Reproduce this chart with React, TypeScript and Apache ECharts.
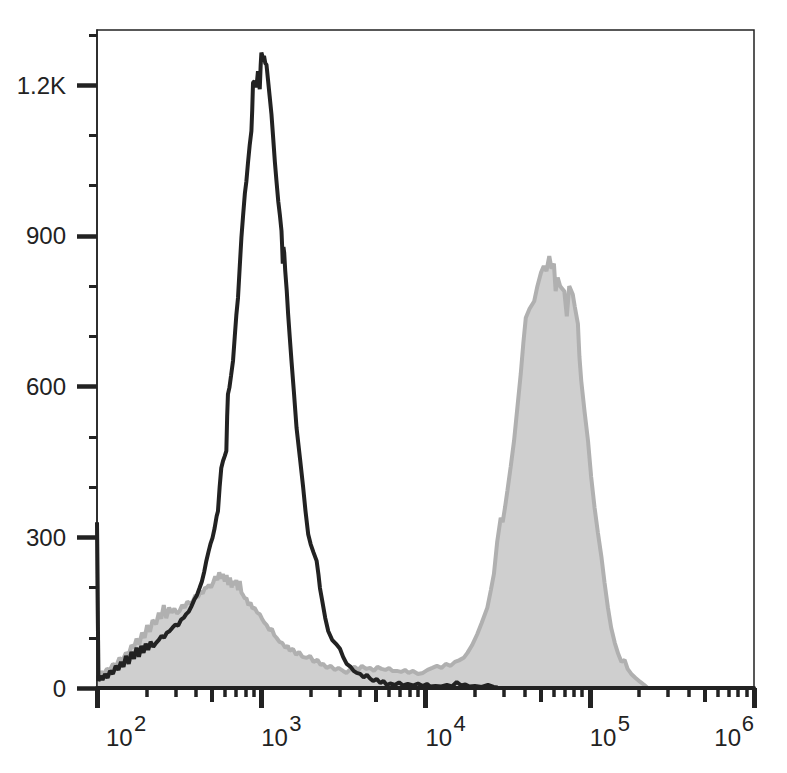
import React, { useEffect, useRef } from "react";
import * as echarts from "echarts";

// ---- DATA ----
// Black open histogram (control): [fluorescence, count]
const controlHistogram: [number, number][] = [
  [100, 330], [102, 14], [105, 24], [108, 16], [112, 28], [116, 20], [120, 34], [125, 28],
  [130, 44], [135, 36], [140, 52], [145, 42], [150, 64], [156, 48], [162, 72], [168, 58],
  [174, 80], [180, 62], [186, 84], [192, 70], [198, 88], [205, 76], [212, 92], [220, 82],
  [229, 90], [238, 96], [247, 104], [256, 100], [266, 110], [276, 113], [288, 120], [300, 126],
  [312, 124], [325, 136], [338, 140], [349, 147], [362, 152], [375, 162], [390, 175], [405, 184],
  [421, 199], [435, 212], [450, 232], [463, 253], [478, 272], [492, 288], [505, 299], [520, 318],
  [535, 342], [545, 352], [558, 400], [571, 438], [585, 452], [600, 462], [613, 472], [620, 540],
  [627, 585], [640, 598], [655, 622], [673, 651], [690, 700], [705, 742], [722, 777], [740, 840],
  [757, 896], [775, 940], [795, 985], [812, 1009], [830, 1045], [850, 1080], [871, 1109], [881, 1150],
  [891, 1205], [910, 1208], [935, 1196], [955, 1228], [979, 1192], [992, 1240], [1002, 1265], [1020, 1256],
  [1040, 1258], [1058, 1244], [1076, 1241], [1100, 1210], [1125, 1178], [1154, 1142], [1185, 1090], [1210, 1048],
  [1238, 1009], [1270, 968], [1300, 940], [1328, 910], [1340, 880], [1352, 845], [1365, 878], [1380, 866],
  [1400, 830], [1430, 790], [1458, 744], [1490, 700], [1528, 651], [1580, 590], [1640, 518], [1720, 458],
  [1800, 399], [1860, 352], [1931, 306], [2000, 286], [2080, 270], [2174, 253], [2230, 226], [2277, 199],
  [2350, 174], [2450, 140], [2559, 113], [2700, 96], [2850, 88], [3015, 78], [3150, 62], [3312, 48],
  [3500, 42], [3650, 34], [3811, 30], [4000, 28], [4200, 21], [4400, 26], [4594, 19], [4800, 14],
  [5050, 18], [5300, 10], [5550, 14], [5808, 6], [6100, 9], [6500, 6], [6900, 11], [7300, 5],
  [7800, 8], [8400, 5], [9000, 9], [9600, 4], [10200, 8], [10700, 3], [11500, 4], [12500, 3],
  [13500, 6], [14500, 3], [15500, 12], [16500, 5], [17500, 7], [18500, 3], [20000, 4], [22000, 2],
  [24000, 6], [26000, 2], [27500, 1],
];

// Grey filled histogram (stained): [fluorescence, count]
const stainedHistogram: [number, number][] = [
  [100, 325], [102, 25], [106, 32], [110, 28], [115, 38], [120, 36], [125, 48], [131, 44],
  [137, 60], [143, 54], [150, 70], [156, 66], [162, 85], [168, 80], [174, 98], [181, 87],
  [188, 110], [195, 100], [202, 125], [210, 112], [218, 135], [229, 127], [238, 150], [246, 138],
  [255, 165], [264, 139], [275, 160], [285, 150], [296, 158], [307, 148], [318, 153], [330, 165],
  [342, 160], [355, 172], [370, 168], [384, 173], [398, 185], [412, 180], [426, 192], [440, 188],
  [455, 200], [463, 199], [480, 205], [495, 200], [510, 210], [525, 222], [540, 215], [555, 230],
  [570, 218], [584, 227], [600, 212], [615, 225], [630, 205], [645, 220], [660, 200], [673, 213],
  [690, 205], [705, 215], [722, 195], [740, 213], [757, 190], [775, 185], [795, 178], [812, 179],
  [835, 165], [860, 170], [885, 158], [910, 160], [945, 150], [979, 147], [1010, 138], [1045, 130],
  [1080, 125], [1120, 115], [1160, 118], [1200, 105], [1238, 100], [1290, 92], [1340, 90], [1400, 80],
  [1450, 84], [1490, 74], [1560, 78], [1630, 66], [1700, 72], [1780, 62], [1890, 60], [1980, 64],
  [2080, 52], [2200, 56], [2300, 46], [2380, 48], [2500, 40], [2650, 44], [2800, 36], [2950, 40],
  [3150, 34], [3300, 30], [3500, 38], [3700, 42], [3900, 36], [4100, 44], [4350, 38], [4594, 40],
  [4850, 34], [5100, 42], [5400, 38], [5700, 36], [6000, 40], [6300, 34], [6690, 34], [7100, 32],
  [7500, 36], [7900, 30], [8400, 34], [9000, 28], [9640, 30], [10300, 36], [11000, 40], [11740, 44],
  [12500, 40], [13300, 48], [14200, 44], [15100, 52], [16000, 55], [17080, 60], [18000, 70], [19200, 85],
  [20650, 107], [22000, 130], [23800, 160], [25000, 195], [26100, 227], [27300, 290], [28700, 339], [29500, 330],
  [30500, 360], [31500, 392], [33000, 440], [34600, 492], [36300, 560], [38000, 625], [39500, 690], [40800, 737],
  [43000, 755], [45900, 770], [48000, 800], [50500, 827], [52500, 840], [54500, 830], [56700, 860], [58500, 835],
  [60500, 845], [62000, 790], [63800, 817], [66000, 800], [68000, 795], [70000, 790], [72500, 740], [75000, 800],
  [78800, 784], [81000, 760], [84700, 725], [86500, 660], [88800, 611], [93000, 550], [97600, 492], [102000, 420],
  [107000, 359], [112000, 310], [118000, 259], [123000, 210], [129000, 160], [135000, 120], [142000, 90], [149000, 68],
  [156000, 52], [163000, 56], [170000, 38], [179000, 28], [190000, 20], [203000, 12], [215000, 6], [225000, 0],
];

// Axis ticks
const xDecadeExponents = [2, 3, 4, 5, 6];
const xLabelExponentsLeft = [2, 3, 4, 5];
const xLabelExponentsRight = [6];
const xLabelBase = "10";
const xMinorMultipliers = [2, 3, 4, 6, 7, 8, 9];
const xMidMultipliers = [5];
const yMajorTicks = [0, 300, 600, 900, 1200];
const yMinorTicks = [100, 200, 400, 500, 700, 800, 1000, 1100, 1300];
const yMax = 1310;

const FONT = '"Liberation Sans", Arial, Helvetica, sans-serif';
const INK = "#222222";

function decadeTicks(mults: number[]): number[] {
  const out: number[] = [];
  for (let d = 2; d < 6; d++) {
    for (const m of mults) out.push(Math.log10(m * Math.pow(10, d)));
  }
  return out;
}

function toLog(data: [number, number][]) {
  return data.map(([x, y]) => [Math.log10(x), y]);
}

const baseTxt = { color: INK, fontFamily: FONT, fontSize: 24, lineHeight: 24 };
const expTxt = { color: INK, fontFamily: FONT, fontSize: 22, lineHeight: 22 };
// base "10" labels, per-label horizontal nudges
const baseRich = {
  p2: { ...baseTxt, padding: [0, 0, 0, 9] },
  p3: { ...baseTxt, padding: [0, 0, 0, 0] },
  p4: { ...baseTxt, padding: [0, 0, 0, 0] },
  p5: { ...baseTxt, padding: [0, 0, 0, 0] },
  p6: { ...baseTxt, padding: [0, 13, 0, 0] },
};
// exponent labels, placed right after the "10"
const expRich = {
  p2: { ...expTxt, padding: [0, 0, 0, 37] },
  p3: { ...expTxt, padding: [0, 0, 0, 28] },
  p4: { ...expTxt, padding: [0, 0, 0, 28] },
  p5: { ...expTxt, padding: [0, 0, 0, 28] },
  p6: { ...expTxt, padding: [0, 0, 0, 0] },
};

const baseFormatter = (v: number) => `{p${Math.round(v)}|${xLabelBase}}`;
const expFormatter = (v: number) => `{p${Math.round(v)}|${Math.round(v)}}`;

const hiddenX = {
  type: "value",
  min: 2,
  max: 6,
  position: "bottom",
  offset: 0,
  z: 5,
  axisLine: { show: false },
  axisTick: { show: false },
  axisLabel: { show: false },
  splitLine: { show: false },
};

function labelAxis(values: number[], align: string, margin: number, formatter: any, rich: any, txt: any) {
  return {
    ...hiddenX,
    axisLabel: { show: true, customValues: values, align, margin, formatter, rich, ...txt },
  };
}

export default function App() {
  const ref = useRef<HTMLDivElement>(null);

  useEffect(() => {
    if (!ref.current) return;
    const chart = echarts.init(ref.current, null, { renderer: "svg" });
    const option: any = {
      animation: false,
      backgroundColor: "#ffffff",
      grid: {
        left: 97,
        top: 30,
        width: 657,
        height: 658,
        show: true,
        borderColor: INK,
        borderWidth: 1.5,
        containLabel: false,
        outerBoundsMode: "none",
      },
      xAxis: [
        {
          ...hiddenX,
          axisLine: { show: true, onZero: false, lineStyle: { color: INK, width: 4 } },
          axisTick: { show: true, customValues: xDecadeExponents, length: 20, lineStyle: { color: INK, width: 5 } },
        },
        {
          ...hiddenX,
          axisTick: { show: true, customValues: decadeTicks(xMinorMultipliers), length: 9, lineStyle: { color: INK, width: 3.5 } },
        },
        {
          ...hiddenX,
          axisTick: { show: true, customValues: decadeTicks(xMidMultipliers), length: 14, lineStyle: { color: INK, width: 4 } },
        },
        labelAxis(xLabelExponentsLeft, "left", 37, baseFormatter, baseRich, baseTxt),
        labelAxis(xLabelExponentsRight, "right", 37, baseFormatter, baseRich, baseTxt),
        labelAxis(xLabelExponentsLeft, "left", 24, expFormatter, expRich, expTxt),
        labelAxis(xLabelExponentsRight, "right", 24, expFormatter, expRich, expTxt),
      ],
      yAxis: [
        {
          type: "value",
          min: 0,
          max: yMax,
          position: "left",
          offset: 0,
          z: 5,
          axisLine: { show: true, onZero: false, lineStyle: { color: INK, width: 1.5 } },
          axisTick: { show: true, customValues: yMajorTicks, length: 20, lineStyle: { color: INK, width: 4.5 } },
          axisLabel: {
            show: true,
            customValues: yMajorTicks,
            margin: 31,
            fontSize: 24,
            color: INK,
            fontFamily: FONT,
            formatter: (v: number) => (v >= 1000 ? `${v / 1000}K` : `${v}`),
          },
          splitLine: { show: false },
        },
        {
          type: "value",
          min: 0,
          max: yMax,
          position: "left",
          offset: 0,
          z: 5,
          axisLine: { show: false },
          axisTick: { show: true, customValues: yMinorTicks, length: 8, lineStyle: { color: INK, width: 3 } },
          axisLabel: { show: false },
          splitLine: { show: false },
        },
      ],
      series: [
        {
          type: "line",
          name: "stained",
          xAxisIndex: 0,
          yAxisIndex: 0,
          data: toLog(stainedHistogram),
          symbol: "none",
          z: 2,
          lineStyle: { color: "#b0b0b0", width: 4 },
          areaStyle: { color: "#cfcfcf", opacity: 1 },
        },
        {
          type: "line",
          name: "control",
          xAxisIndex: 0,
          yAxisIndex: 0,
          data: toLog(controlHistogram),
          symbol: "none",
          z: 3,
          lineStyle: { color: INK, width: 4 },
        },
      ],
    };
    chart.setOption(option);
    return () => chart.dispose();
  }, []);

  return (
    <div
      ref={ref}
      style={{ position: "fixed", left: 0, top: 0, width: 787, height: 773, background: "#fff" }}
    />
  );
}
